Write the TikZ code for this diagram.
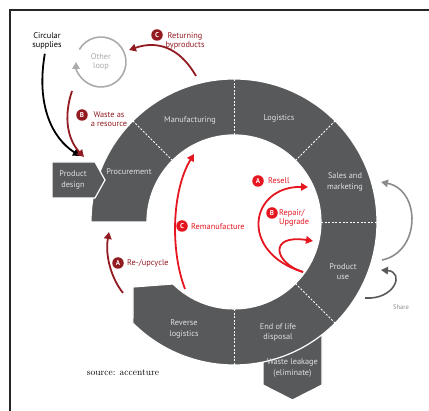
\documentclass[tikz,border=0pt]{standalone}
\usepackage{fontspec}
\setsansfont{PT Sans}
\usepackage{tikz}
\usetikzlibrary{arrows.meta, calc}

\definecolor{ringgray}{HTML}{58595B}
\definecolor{loopred}{HTML}{921B21}
\definecolor{brightred}{HTML}{E5161F}
\definecolor{othergray}{HTML}{ABABAB}
\definecolor{returngray}{HTML}{8C8C8C}
\definecolor{sharegray}{HTML}{5A5A5A}

\begin{document}
\begin{tikzpicture}[x=1pt, y=-1pt,
	seg/.style={text=white!88!black, font=\sffamily\fontsize{8.3}{10.2}\selectfont, align=center, inner sep=0pt},
	lbl/.style={font=\sffamily\fontsize{8.3}{9.6}\selectfont, align=center, inner sep=0pt},
	badge/.style={circle, fill=#1, text=white, font=\sffamily\bfseries\fontsize{7}{7}\selectfont, inner sep=0pt, minimum size=11.5pt},
	flow/.style={line width=1.8pt, draw=#1, -{Triangle[length=7pt, width=7.5pt]}},
	sepline/.style={white, line width=0.8pt, dash pattern=on 2pt off 1.6pt},
	panel/.style={fill=ringgray, draw=white, line width=1.2pt}]
	\useasboundingbox (0,0) rectangle (429,411);
	\draw[line width=1.1pt, black!85] (10,411) -- (10,10) -- (429,10);
	\coordinate (ctr) at (234,222);

	\path[panel] (263,330) -- (263,385) -- (292.5,400) -- (322,385) -- (322,330) -- cycle;
	\path[panel] (91,222) arc[start angle=-180, end angle=135, radius=143] -- (133,287) -- (173,284)
		arc[start angle=134.5, end angle=-180, radius=87] -- cycle;
	\foreach \a in {-135,-90,-45,0,45,90}
		\draw[sepline] ($(ctr)+(\a:87)$) -- ($(ctr)+(\a:143)$);
	\path[panel] (52,162) -- (95,162) -- (105,180) -- (95,198) -- (52,198) -- cycle;

	\node[seg] (procure) at (129,172) {Procurement};
	\node[seg] (manuf) at (190,120) {Manufacturing};
	\node[seg] (logist) at (279,118) {Logistics};
	\node[seg] (sales) at (345,182) {Sales and\\marketing};
	\node[seg] (use) at (343,272) {Product\\use};
	\node[seg] (eol) at (278,332) {End of life\\disposal};
	\node[seg] (reverse) at (184,329) {Reverse\\logistics};
	\node[seg] (design) at (73,180) {Product\\design};
	\node[seg] (waste) at (292.5,368) {Waste leakage\\(eliminate)};

	\node[lbl] (supplies) at (47,41) {Circular\\supplies};
	\node[lbl, text=othergray] (other) at (101,62) {Other\\loop};
	\node[badge=loopred] (bC) at (157,35) {C};
	\node[lbl, text=loopred] (byprod) at (185,41) {Returning\\byproducts};
	\node[badge=loopred] (bB) at (82,115) {B};
	\node[lbl, text=loopred] (wasteres) at (109,119) {Waste as\\a resource};
	\node[badge=loopred] (bA) at (118,263) {A};
	\node[lbl, text=loopred, anchor=west] (upcycle) at (127,263) {Re-/upcycle};
	\node[badge=brightred] (rC) at (182,226) {C};
	\node[lbl, text=brightred, anchor=west] (reman) at (191,227) {Remanufacture};
	\node[badge=brightred] (rA) at (258,181) {A};
	\node[lbl, text=brightred, anchor=west] (resell) at (268,181) {Resell};
	\node[badge=brightred] (rB) at (272,213) {B};
	\node[lbl, text=brightred, anchor=west, align=left] (repair) at (279,218) {Repair/\\Upgrade};
	\node[lbl, text=returngray, font=\sffamily\fontsize{6.6}{7}\selectfont] (share) at (401,307) {Share};
	\node[font=\rmfamily\fontsize{9.5}{10}\selectfont, inner sep=0pt] (source) at (123,373) {source: accenture};

	\coordinate (desIn) at (80,156);
	\coordinate (loopOut) at (72,91);
	\coordinate (procIn) at (84,157);
	\coordinate (manOut) at (196,76);
	\coordinate (loopIn) at (129,50);
	\coordinate (revOut) at (123,293);
	\coordinate (procOut) at (109,232);
	\coordinate (revIn) at (185,289);
	\coordinate (manIn) at (194,154);
	\coordinate (useIn) at (303,272);
	\coordinate (salesIn) at (308,187);
	\coordinate (useBack) at (313,241);
	\coordinate (useOut) at (382,260);
	\coordinate (salesOut) at (381,182);
	\coordinate (shareOut) at (365,298);
	\coordinate (shareIn) at (381,270);

	\draw[flow=black, shorten <=4pt] (supplies) .. controls (36,105) and (52,138) .. (desIn);
	\draw[flow=othergray, line width=1.6pt] ($(other)+(-150:25)$) arc[start angle=-150, end angle=180, radius=25];
	\draw[flow=loopred] (loopOut) .. controls (63,118) and (68,140) .. (procIn);
	\draw[flow=loopred] (manOut) .. controls (180,48) and (158,40) .. (loopIn);
	\draw[flow=loopred] (revOut) .. controls (111,278) and (105,255) .. (procOut);
	\draw[flow=brightred] (revIn) .. controls (170,250) and (172,190) .. (manIn);
	\draw[flow=brightred] (useIn) .. controls (238,252) and (250,186) .. (salesIn);
	\draw[flow=brightred] (useIn) .. controls (274,263) and (268,234) .. (useBack);
	\draw[flow=returngray, line width=1.6pt] (useOut) .. controls (421,252) and (421,190) .. (salesOut);
	\draw[flow=sharegray, line width=1.6pt] (shareOut) .. controls (395,300) and (405,272) .. (shareIn);
\end{tikzpicture}
\end{document}
